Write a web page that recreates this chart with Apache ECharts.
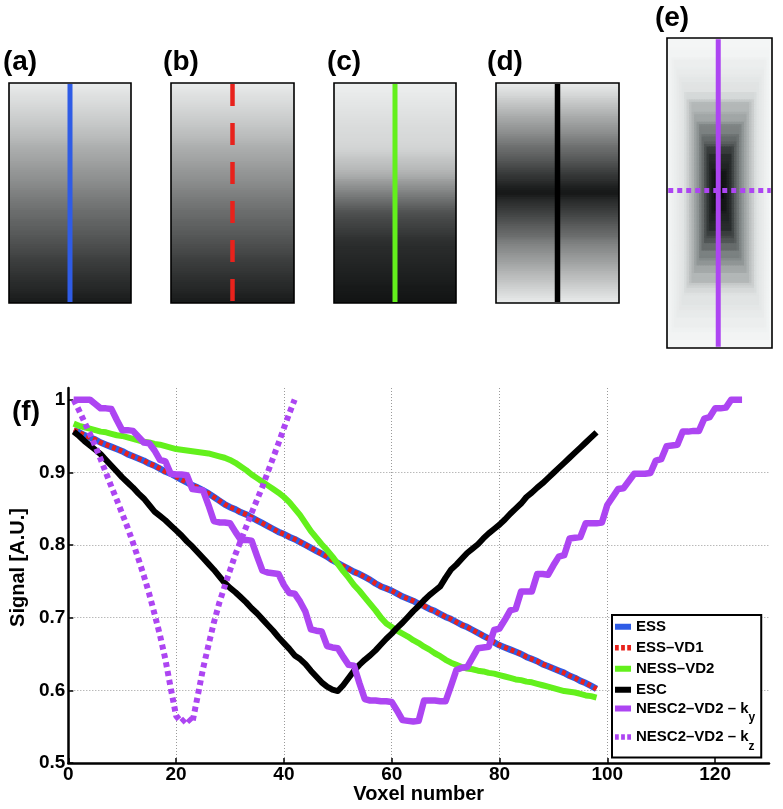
<!DOCTYPE html>
<html><head><meta charset="utf-8">
<script src="https://cdn.jsdelivr.net/npm/echarts@6/dist/echarts.min.js"></script>
<style>html,body{margin:0;padding:0;background:#fff}#c{width:783px;height:809px}</style>
</head><body><div id="c"></div>
<script>
// ---- data (signal per voxel, voxel 1..N) ----
const seriesNames = ['ESS', 'ESS–VD1', 'NESS–VD2', 'ESC', 'NESC2–VD2 – k_y', 'NESC2–VD2 – k_z'];
const essValues = [0.958,0.955,0.951,0.948,0.945,0.941,0.938,0.935,0.932,0.929,
 0.925,0.922,0.919,0.916,0.912,0.909,0.905,0.901,0.898,0.894,
 0.890,0.886,0.882,0.879,0.875,0.871,0.866,0.861,0.856,0.852,
 0.849,0.845,0.842,0.838,0.834,0.830,0.826,0.822,0.818,0.815,
 0.811,0.808,0.804,0.800,0.796,0.792,0.788,0.784,0.779,0.775,
 0.771,0.767,0.763,0.760,0.756,0.752,0.747,0.743,0.740,0.737,
 0.733,0.729,0.726,0.723,0.719,0.716,0.712,0.709,0.705,0.701,
 0.698,0.694,0.690,0.687,0.683,0.679,0.675,0.671,0.666,0.662,
 0.659,0.656,0.653,0.650,0.646,0.643,0.640,0.636,0.633,0.630,
 0.627,0.624,0.620,0.617,0.613,0.610,0.606,0.602];
// ESS-VD1 lies exactly on ESS in the picture
const essVd1Values = essValues;
const nessVd2Values = [0.967,0.964,0.962,0.960,0.958,0.956,0.955,0.953,0.951,0.950,
 0.948,0.946,0.944,0.942,0.941,0.939,0.938,0.936,0.934,0.932,
 0.931,0.930,0.929,0.928,0.927,0.926,0.924,0.922,0.920,0.917,
 0.913,0.908,0.903,0.897,0.892,0.887,0.882,0.877,0.872,0.866,
 0.859,0.850,0.841,0.830,0.819,0.810,0.801,0.793,0.784,0.774,
 0.764,0.755,0.745,0.737,0.728,0.719,0.710,0.700,0.692,0.687,
 0.682,0.678,0.674,0.669,0.665,0.660,0.656,0.651,0.647,0.642,
 0.638,0.635,0.632,0.630,0.629,0.627,0.626,0.624,0.623,0.621,
 0.619,0.617,0.615,0.614,0.612,0.611,0.609,0.607,0.605,0.603,
 0.601,0.599,0.598,0.597,0.595,0.593,0.592,0.590];
const escValues = [0.956,0.950,0.943,0.937,0.931,0.925,0.917,0.909,0.901,0.893,
 0.886,0.879,0.871,0.864,0.855,0.846,0.840,0.834,0.827,0.820,
 0.813,0.805,0.798,0.790,0.782,0.774,0.766,0.757,0.748,0.741,
 0.735,0.728,0.721,0.713,0.706,0.698,0.690,0.682,0.673,0.665,
 0.657,0.648,0.643,0.636,0.627,0.619,0.611,0.605,0.601,0.599,
 0.607,0.617,0.627,0.635,0.642,0.648,0.655,0.663,0.671,0.678,
 0.686,0.693,0.701,0.709,0.716,0.724,0.731,0.737,0.743,0.755,
 0.766,0.773,0.781,0.789,0.795,0.801,0.809,0.816,0.822,0.828,
 0.835,0.843,0.850,0.857,0.866,0.872,0.879,0.885,0.892,0.899,
 0.906,0.913,0.920,0.927,0.934,0.941,0.948,0.955];
const kyValues = [1.000,1.000,1.000,1.000,0.994,0.988,0.988,0.987,0.972,0.958,
 0.958,0.957,0.949,0.941,0.940,0.930,0.917,0.915,0.898,0.897,
 0.897,0.896,0.877,0.876,0.875,0.855,0.833,0.831,0.831,0.830,
 0.818,0.807,0.807,0.806,0.785,0.765,0.762,0.761,0.760,0.745,
 0.734,0.733,0.722,0.708,0.684,0.682,0.681,0.661,0.659,0.658,
 0.646,0.635,0.634,0.610,0.588,0.586,0.586,0.585,0.585,0.584,
 0.572,0.559,0.558,0.557,0.558,0.586,0.586,0.586,0.585,0.585,
 0.606,0.628,0.631,0.632,0.645,0.658,0.659,0.660,0.683,0.685,
 0.697,0.710,0.712,0.736,0.736,0.736,0.760,0.760,0.759,0.772,
 0.784,0.786,0.809,0.810,0.811,0.830,0.830,0.830,0.831,0.855,
 0.866,0.877,0.878,0.888,0.898,0.898,0.898,0.899,0.916,0.918,
 0.936,0.937,0.938,0.956,0.956,0.957,0.957,0.974,0.976,0.988,
 0.988,0.989,1.000,1.000,1.000];
const kzValues = [1.000,0.985,0.969,0.953,0.936,0.918,0.899,0.880,0.862,0.843,
 0.824,0.803,0.781,0.758,0.733,0.705,0.676,0.643,0.603,0.565,
 0.556,0.563,0.555,0.592,0.630,0.662,0.693,0.720,0.743,0.765,
 0.787,0.806,0.825,0.844,0.862,0.880,0.900,0.920,0.940,0.961,
 0.981,1.000];
const voxelTicks = [0, 20, 40, 60, 80, 100, 120];
const signalTicks = [0.5, 0.6, 0.7, 0.8, 0.9, 1];
const panelLabels = ['(a)', '(b)', '(c)', '(d)', '(e)', '(f)'];
// profile positions inside panel (e): column of the k_y line, row of the k_z line
const eProfileColumn = 20;
const eProfileRow = 61;

// ---- styling ----
const FONT = 'Liberation Sans, Arial, Helvetica, sans-serif';
const BLUE = '#2f5ce6', RED = '#e8221c', GREEN = '#63f01c', BLACK = '#000000', PURPLE = '#ad45f2';

const toXY = arr => arr.map((v, i) => [i + 1, v]);

const mainSeries = [
  {name: seriesNames[0], data: toXY(essValues), color: BLUE, width: 6.5, type: 'solid'},
  {name: seriesNames[1], data: toXY(essVd1Values), color: RED, width: 5, type: [4, 3]},
  {name: seriesNames[2], data: toXY(nessVd2Values), color: GREEN, width: 6, type: 'solid'},
  {name: seriesNames[3], data: toXY(escValues), color: BLACK, width: 6, type: 'solid'},
  {name: seriesNames[4], data: toXY(kyValues), color: PURPLE, width: 6.5, type: 'solid'},
  {name: seriesNames[5], data: toXY(kzValues), color: PURPLE, width: 6, type: [5, 4]}
].map(s => ({
  type: 'line', name: s.name, data: s.data, xAxisIndex: 0, yAxisIndex: 0,
  symbol: 'none', smooth: false, clip: false,
  itemStyle: {color: s.color},
  lineStyle: {color: s.color, width: s.width, type: s.type, join: 'round', cap: 'butt'},
  emphasis: {disabled: true}
}));

// panel grids (a)-(e)
const panelBoxes = [
  {left: 9, top: 83, width: 122, height: 220},
  {left: 171, top: 83, width: 123, height: 220},
  {left: 334, top: 83, width: 122, height: 220},
  {left: 496, top: 83, width: 123, height: 220},
  {left: 667, top: 38, width: 105, height: 310}
];
const panelProfiles = [essValues, essVd1Values, nessVd2Values, escValues];

const grids = [{left: 63, right: 14, top: 388, bottom: 46, show: false}]
  .concat(panelBoxes.map(b => Object.assign({show: true, borderColor: '#000', borderWidth: 1.6,
     backgroundColor: 'transparent', z: 10}, b)));

const xAxes = [{
  type: 'value', gridIndex: 0, min: 0, max: 130, interval: 20,
  axisLine: {show: true, lineStyle: {color: '#000', width: 2.5}},
  axisTick: {show: true, inside: true, length: 5, customValues: voxelTicks, lineStyle: {color: '#000', width: 1.5}},
  axisLabel: {customValues: voxelTicks, color: '#000', fontSize: 19, fontWeight: 'bold', fontFamily: FONT, margin: 2},
  splitLine: {show: true, showMinLine: false, showMaxLine: false, lineStyle: {type: [1, 2], color: '#9a9a9a', width: 1}},
  name: 'Voxel number', nameLocation: 'middle', nameGap: 21,
  nameTextStyle: {color: '#000', fontSize: 20, fontWeight: 'bold', fontFamily: FONT}
}];
const yAxes = [{
  type: 'value', gridIndex: 0, min: 0.5, max: 1.016, interval: 0.1,
  axisLine: {show: true, lineStyle: {color: '#000', width: 2.5}},
  axisTick: {show: true, inside: true, length: 5, customValues: signalTicks, lineStyle: {color: '#000', width: 1.5}},
  axisLabel: {customValues: signalTicks, color: '#000', fontSize: 19, fontWeight: 'bold', fontFamily: FONT, margin: 3,
    formatter: v => (Math.abs(v - 1) < 1e-9 ? '1' : v.toFixed(1))},
  splitLine: {show: true, showMinLine: false, showMaxLine: false, lineStyle: {type: [1, 2], color: '#9a9a9a', width: 1}},
  name: 'Signal [A.U.]', nameLocation: 'middle', nameGap: 36, nameRotate: 90,
  nameTextStyle: {color: '#000', fontSize: 20, fontWeight: 'bold', fontFamily: FONT, padding: [0, 0, 0, 16]}
}];

// cells of the panel images, drawn through the panel's category axes
const cellRender = (params, api) => {
  const p = api.coord([api.value(0), api.value(1)]);
  const s = api.size([1, 1]);
  return {type: 'rect',
    shape: {x: p[0] - s[0] / 2 - 0.5, y: p[1] - s[1] / 2 - 0.6, width: s[0] + 1, height: s[1] + 1.2},
    style: {fill: api.visual('color')}};
};

const heatSeries = [];
const panelLineSeries = [];
panelProfiles.forEach((prof, p) => {
  xAxes.push({type: 'category', gridIndex: p + 1, data: [0], show: false});
  yAxes.push({type: 'category', gridIndex: p + 1, data: prof.map((v, i) => i), inverse: true, show: false});
  heatSeries.push({type: 'custom', xAxisIndex: p + 1, yAxisIndex: p + 1, renderItem: cellRender,
    encode: {x: 0, y: 1}, data: prof.map((v, i) => [0, i, v]), clip: true, silent: true});
});
// panel (e): 2-D map combining the k_y (rows) and k_z (columns) profiles
xAxes.push({type: 'category', gridIndex: 5, data: kzValues.map((v, i) => i), show: false});
yAxes.push({type: 'category', gridIndex: 5, data: kyValues.map((v, i) => i), inverse: true, show: false});
const eData = [];
kyValues.forEach((ky, r) => kzValues.forEach((kz, c) => eData.push([c, r, Math.max(ky, kz)])));
heatSeries.push({type: 'custom', xAxisIndex: 5, yAxisIndex: 5, renderItem: cellRender,
  encode: {x: 0, y: 1}, data: eData, clip: true, silent: true, progressive: 0});

const lastRow = arr => arr.length - 1;
const panelLineStyles = [
  {color: BLUE, width: 5, type: 'solid'},
  {color: RED, width: 4.5, type: [22, 17]},
  {color: GREEN, width: 5, type: 'solid'},
  {color: BLACK, width: 5.5, type: 'solid'}
];
panelProfiles.forEach((prof, p) => {
  panelLineSeries.push({type: 'line', xAxisIndex: p + 1, yAxisIndex: p + 1, symbol: 'none', z: 5,
    data: [[0, 0], [0, lastRow(prof)]], lineStyle: Object.assign({cap: 'butt'}, panelLineStyles[p]), emphasis: {disabled: true}});
});
panelLineSeries.push({type: 'line', xAxisIndex: 5, yAxisIndex: 5, symbol: 'none', z: 5,
  data: [[eProfileColumn, 0], [eProfileColumn, lastRow(kyValues)]],
  lineStyle: {color: PURPLE, width: 5, type: 'solid', cap: 'butt'}, emphasis: {disabled: true}});
panelLineSeries.push({type: 'line', xAxisIndex: 5, yAxisIndex: 5, symbol: 'none', z: 6,
  data: [[0, eProfileRow], [lastRow(kzValues), eProfileRow]],
  lineStyle: {color: PURPLE, width: 5, type: [5, 4], cap: 'butt'}, emphasis: {disabled: true}});

const allSeries = mainSeries.concat(heatSeries, panelLineSeries);
const heatStart = mainSeries.length;

// legend items
const dashIcon = 'path://M0,0H4V6H0Z M6.5,0H10.5V6H6.5Z M13,0H17V6H13Z';
const legendData = seriesNames.map((n, i) => ({
  name: n, icon: (i === 1 || i === 5) ? dashIcon : 'rect'
}));

const labelPos = [[20, 62], [181, 62], [344, 62], [505, 62], [672, 18], [26, 412]];
const graphics = panelLabels.map((t, i) => ({
  type: 'text', x: labelPos[i][0], y: labelPos[i][1],
  style: {text: t, fill: '#000', font: 'bold 28px ' + FONT, textAlign: 'center', textVerticalAlign: 'middle'}
}));

const chart = echarts.init(document.getElementById('c'), null, {renderer: 'canvas'});
chart.setOption({
  animation: false,
  backgroundColor: '#fff',
  grid: grids,
  xAxis: xAxes,
  yAxis: yAxes,
  visualMap: [
    {show: false, type: 'continuous', min: 0.59, max: 0.97, dimension: 2,
     seriesIndex: [heatStart, heatStart + 1, heatStart + 2, heatStart + 3],
     inRange: {color: ['#121414', '#f0f2f2']}},
    {show: false, type: 'continuous', min: 0.555, max: 1.0, dimension: 2,
     seriesIndex: [heatStart + 4], inRange: {color: ['#0a0c0c', '#2a2e2e', '#8a9090', '#dfe2e2', '#f4f6f6']}}
  ],
  legend: {
    data: legendData, orient: 'vertical', left: 612, top: 615,
    itemWidth: 16, itemHeight: 6, itemGap: 1.5, selectedMode: false,
    padding: [2, 6, 1, 3],
    backgroundColor: '#fff', borderColor: '#000', borderWidth: 2,
    itemStyle: {borderWidth: 0},
    textStyle: {color: '#000', fontSize: 15, fontWeight: 'bold', fontFamily: FONT, lineHeight: 19.5,
      rich: {
        m: {color: '#000', fontSize: 15, fontWeight: 'bold', fontFamily: FONT, lineHeight: 15, verticalAlign: 'top'},
        s: {color: '#000', fontSize: 12, fontWeight: 'bold', fontFamily: FONT, lineHeight: 12, verticalAlign: 'top', padding: [11, 0, 4, 0]}
      }},
    formatter: name => {
      const k = name.indexOf('_');
      if (k < 0) return name;
      return '{m|' + name.slice(0, k) + '}{s|' + name.slice(k + 1) + '}';
    }
  },
  graphic: graphics,
  series: allSeries
});
</script>
</body></html>
